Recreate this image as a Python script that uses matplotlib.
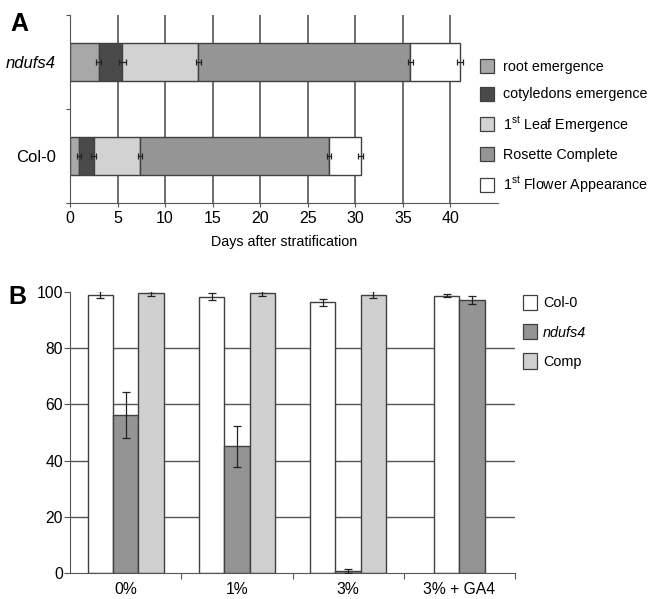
import numpy as np
import matplotlib
matplotlib.use("Agg")
import matplotlib.pyplot as plt
from matplotlib.patches import Patch

plt.rcParams["font.family"] = ["Liberation Sans", "DejaVu Sans"]
plt.rcParams["mathtext.fontset"] = "custom"
plt.rcParams["mathtext.rm"] = "Liberation Sans"

# ---- panel A data: day each stage is reached (cumulative) ----
stages = ["root emergence", "cotyledons emergence", "1$^{\\mathregular{st}}$ Leaf Emergence",
          "Rosette Complete", "1$^{\\mathregular{st}}$ Flower Appearance"]
stage_colors = ["#a8a8a8", "#4a4a4a", "#d2d2d2", "#959595", "#ffffff"]
genotypes_a = ["Col-0", "ndufs4"]
col0_days = [0.95, 2.5, 7.4, 27.2, 30.55]
col0_err = [0.2, 0.25, 0.2, 0.2, 0.25]
ndufs4_days = [3.0, 5.5, 13.5, 35.8, 41.0]
ndufs4_err = [0.3, 0.35, 0.3, 0.3, 0.35]

# ---- panel B data: germination (%) ----
treatments = ["0%", "1%", "3%", "3% + GA4"]
series_b = ["Col-0", "ndufs4", "Comp"]
col0_b = [99.2, 98.5, 96.4, 98.8]
col0_b_err = [1.1, 1.1, 1.2, 0.5]
ndufs4_b = [56.2, 45.1, 0.6, 97.3]
ndufs4_b_err = [8.1, 7.3, 0.8, 1.3]
comp_b = [99.6, 99.6, 99.2, None]
comp_b_err = [0.8, 0.8, 1.2, None]
colors_b = ["#ffffff", "#949494", "#d0d0d0"]

EDGE = "#404040"
GRID = "#555555"

fig = plt.figure(figsize=(6.48, 5.99), dpi=100)

# ============================================================
# Panel A
# ============================================================
axA = fig.add_axes([70 / 648, 1 - 203 / 599, 428 / 648, 188 / 599])
for yi, (days, err) in enumerate([(col0_days, col0_err), (ndufs4_days, ndufs4_err)]):
    left = 0.0
    for si, d in enumerate(days):
        axA.barh(yi, d - left, left=left, height=0.4, color=stage_colors[si],
                 edgecolor=EDGE, linewidth=1.0, zorder=2)
        left = d
    axA.errorbar(days, [yi] * len(days), xerr=err, fmt="none", ecolor="#222222",
                 elinewidth=0.9, capsize=2, capthick=0.9, zorder=3)

axA.set_xlim(0, 45)
axA.set_ylim(-0.5, 1.5)
axA.set_xticks(np.arange(0, 41, 5))
axA.set_xticklabels([str(v) for v in range(0, 41, 5)], fontsize=11.5)
axA.xaxis.grid(True, color=GRID, linewidth=1.2, zorder=0)
axA.set_axisbelow(True)
axA.set_yticks([-0.5, 0.5, 1.5])
axA.set_yticklabels([])
axA.set_yticks([0, 1], minor=True)
axA.set_yticklabels(genotypes_a, minor=True, fontsize=12)
axA.get_yticklabels(minor=True)[1].set_style("italic")
axA.tick_params(axis="y", which="minor", length=0, pad=10)
axA.tick_params(axis="y", which="major", length=3, color=GRID)
axA.tick_params(axis="x", length=3, pad=3, color=GRID)
for s in ["top", "right"]:
    axA.spines[s].set_visible(False)
for s in ["left", "bottom"]:
    axA.spines[s].set_color(GRID)
axA.set_xlabel("Days after stratification", fontsize=10.3, labelpad=6)

handlesA = [Patch(facecolor=c, edgecolor=EDGE, linewidth=0.9) for c in stage_colors]
fig.legend(handlesA, stages, loc="upper left", bbox_to_anchor=(480 / 648, 1 - 59 / 599),
           frameon=False, fontsize=10.3, handlelength=1.0, handleheight=1.15,
           handletextpad=0.6, labelspacing=0.88, borderpad=0, borderaxespad=0)
fig.text(10 / 648, 1 - 24 / 599, "A", fontsize=18, fontweight="bold", va="center")

# ============================================================
# Panel B
# ============================================================
axB = fig.add_axes([70 / 648, 1 - 572.7 / 599, 445 / 648, 280.4 / 599])
w = 0.227
x = np.arange(len(treatments))
for i in range(len(treatments)):
    vals = [col0_b[i], ndufs4_b[i], comp_b[i]]
    errs = [col0_b_err[i], ndufs4_b_err[i], comp_b_err[i]]
    present = [k for k in range(3) if vals[k] is not None]
    n = len(present)
    for j, k in enumerate(present):
        xpos = x[i] + (j - (n - 1) / 2) * w
        axB.bar(xpos, vals[k], width=w, color=colors_b[k], edgecolor=EDGE,
                linewidth=1.0, zorder=2)
        axB.errorbar(xpos, vals[k], yerr=errs[k], fmt="none", ecolor="#222222",
                     elinewidth=0.9, capsize=3, capthick=0.9, zorder=3)

axB.set_xlim(-0.5, 3.5)
axB.set_ylim(0, 100)
axB.set_yticks(np.arange(0, 101, 20))
axB.set_yticklabels([str(v) for v in range(0, 101, 20)], fontsize=11.3)
for yv in range(20, 100, 20):
    axB.axhline(yv, color=GRID, linewidth=1.0, zorder=0)
axB.set_xticks([0.5, 1.5, 2.5, 3.5])
axB.set_xticklabels([])
axB.set_xticks(x, minor=True)
axB.set_xticklabels(treatments, minor=True, fontsize=11.3)
axB.tick_params(axis="x", which="minor", length=0, pad=7)
axB.tick_params(axis="x", which="major", length=4, color=GRID)
axB.tick_params(axis="y", length=4, pad=1, color=GRID)
for s in ["top", "right"]:
    axB.spines[s].set_visible(False)
for s in ["left", "bottom"]:
    axB.spines[s].set_color(GRID)

handlesB = [Patch(facecolor=c, edgecolor=EDGE, linewidth=0.9) for c in colors_b]
legB = fig.legend(handlesB, series_b, loc="upper left", bbox_to_anchor=(523 / 648, 1 - 295 / 599),
                  frameon=False, fontsize=10.4, handlelength=1.0, handleheight=1.25,
                  handletextpad=0.4, labelspacing=0.95, borderpad=0, borderaxespad=0)
legB.get_texts()[1].set_style("italic")
fig.text(8 / 648, 1 - 297 / 599, "B", fontsize=18, fontweight="bold", va="center")

fig.savefig("out.png", dpi=100)
